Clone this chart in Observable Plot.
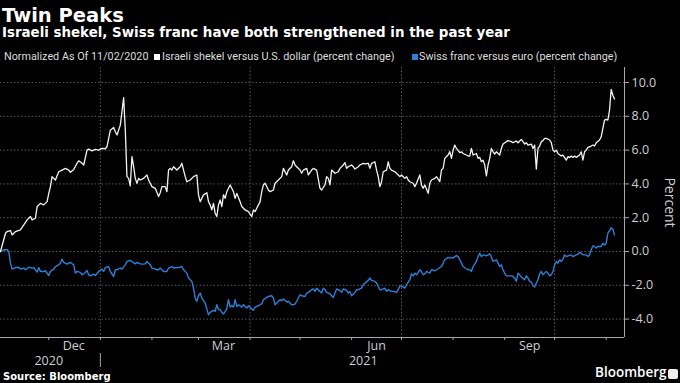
<!DOCTYPE html>
<html><head><meta charset="utf-8">
<script src="https://cdn.jsdelivr.net/npm/d3@7"></script>
<script src="https://cdn.jsdelivr.net/npm/@observablehq/plot@0.6"></script>
<style>
html,body{margin:0;padding:0;background:#000;}
#page{position:relative;width:680px;height:383px;background:#000;overflow:hidden;color:#fff}
.abs{position:absolute;white-space:nowrap}
#title{left:2px;top:5.5px;font:700 19.5px/1 "DejaVu Sans";color:#fff}
#subtitle{left:2px;top:26px;font:700 13.4px/1 "DejaVu Sans";color:#fff}
.leg{font:400 10.8px/1 Roboto;color:#ddd;top:52.4px}
.sq{width:6px;height:6px;top:54px}
#chart{position:absolute;left:0;top:62px}
#source{left:3px;top:371.5px;font:700 10px/1 "DejaVu Sans";color:#fff}
#brand{left:595px;top:366px;font:600 13.5px/1 "Open Sans";color:#fff}
#icon{left:668px;top:369px;width:10px;height:10px;background:#eee;border-radius:2px}
</style></head><body>
<div id="page">
  <div class="abs" id="title">Twin Peaks</div>
  <div class="abs" id="subtitle">Israeli shekel, Swiss franc have both strengthened in the past year</div>
  <div class="abs leg" style="left:4px">Normalized As Of 11/02/2020</div>
  <div class="abs sq" style="left:154px;background:#fff"></div>
  <div class="abs leg" style="left:162px">Israeli shekel versus U.S. dollar (percent change)</div>
  <div class="abs sq" style="left:412px;background:#2e7fd6"></div>
  <div class="abs leg" style="left:419px">Swiss franc versus euro (percent change)</div>
  <div id="chart"></div>
  <div class="abs" id="source">Source: Bloomberg</div>
  <div class="abs" id="brand">Bloomberg</div>
  <div class="abs" id="icon"></div>
</div>
<script>
const shekelDates = ["2020-11-02","2020-11-05","2020-11-06","2020-11-08","2020-11-09","2020-11-11","2020-11-14","2020-11-16","2020-11-18","2020-11-20","2020-11-21","2020-11-23","2020-11-24","2020-11-26","2020-11-28","2020-11-30","2020-12-01","2020-12-02","2020-12-03","2020-12-04","2020-12-05","2020-12-07","2020-12-09","2020-12-11","2020-12-13","2020-12-14","2020-12-16","2020-12-18","2020-12-19","2020-12-20","2020-12-21","2020-12-22","2020-12-24","2020-12-25","2020-12-27","2020-12-29","2020-12-31","2021-01-02","2021-01-04","2021-01-05","2021-01-07","2021-01-09","2021-01-10","2021-01-11","2021-01-13","2021-01-14","2021-01-15","2021-01-16","2021-01-17","2021-01-18","2021-01-19","2021-01-20","2021-01-21","2021-01-22","2021-01-23","2021-01-24","2021-01-25","2021-01-27","2021-01-29","2021-01-30","2021-02-01","2021-02-03","2021-02-05","2021-02-06","2021-02-07","2021-02-09","2021-02-10","2021-02-11","2021-02-12","2021-02-13","2021-02-14","2021-02-16","2021-02-18","2021-02-19","2021-02-21","2021-02-22","2021-02-24","2021-02-26","2021-02-28","2021-03-01","2021-03-02","2021-03-04","2021-03-06","2021-03-07","2021-03-08","2021-03-09","2021-03-10","2021-03-11","2021-03-12","2021-03-13","2021-03-14","2021-03-15","2021-03-16","2021-03-17","2021-03-18","2021-03-20","2021-03-22","2021-03-23","2021-03-24","2021-03-26","2021-03-27","2021-03-29","2021-03-31","2021-04-02","2021-04-03","2021-04-04","2021-04-05","2021-04-07","2021-04-08","2021-04-09","2021-04-10","2021-04-12","2021-04-13","2021-04-15","2021-04-16","2021-04-18","2021-04-20","2021-04-21","2021-04-23","2021-04-24","2021-04-26","2021-04-27","2021-04-28","2021-04-29","2021-05-01","2021-05-02","2021-05-03","2021-05-05","2021-05-06","2021-05-08","2021-05-09","2021-05-11","2021-05-13","2021-05-14","2021-05-16","2021-05-17","2021-05-18","2021-05-19","2021-05-20","2021-05-22","2021-05-24","2021-05-25","2021-05-27","2021-05-28","2021-05-29","2021-05-30","2021-06-01","2021-06-02","2021-06-03","2021-06-05","2021-06-06","2021-06-08","2021-06-09","2021-06-11","2021-06-12","2021-06-13","2021-06-15","2021-06-16","2021-06-17","2021-06-18","2021-06-19","2021-06-20","2021-06-22","2021-06-23","2021-06-24","2021-06-25","2021-06-27","2021-06-28","2021-06-30","2021-07-01","2021-07-03","2021-07-04","2021-07-05","2021-07-06","2021-07-08","2021-07-09","2021-07-10","2021-07-12","2021-07-13","2021-07-14","2021-07-15","2021-07-17","2021-07-18","2021-07-19","2021-07-21","2021-07-22","2021-07-24","2021-07-25","2021-07-26","2021-07-27","2021-07-29","2021-07-30","2021-07-31","2021-08-01","2021-08-02","2021-08-03","2021-08-05","2021-08-06","2021-08-07","2021-08-09","2021-08-10","2021-08-11","2021-08-12","2021-08-13","2021-08-15","2021-08-16","2021-08-17","2021-08-18","2021-08-19","2021-08-20","2021-08-21","2021-08-22","2021-08-23","2021-08-24","2021-08-25","2021-08-26","2021-08-27","2021-08-29","2021-08-30","2021-08-31","2021-09-02","2021-09-03","2021-09-05","2021-09-06","2021-09-08","2021-09-09","2021-09-11","2021-09-12","2021-09-13","2021-09-14","2021-09-15","2021-09-17","2021-09-18","2021-09-19","2021-09-20","2021-09-21","2021-09-22","2021-09-23","2021-09-24","2021-09-25","2021-09-26","2021-09-28","2021-09-29","2021-09-30","2021-10-01","2021-10-02","2021-10-03","2021-10-05","2021-10-06","2021-10-08","2021-10-09","2021-10-10","2021-10-11","2021-10-12","2021-10-13","2021-10-14","2021-10-16","2021-10-17","2021-10-18","2021-10-19","2021-10-20","2021-10-21","2021-10-23","2021-10-24","2021-10-25","2021-10-26","2021-10-28","2021-10-29","2021-10-30","2021-10-31","2021-11-01","2021-11-02","2021-11-03","2021-11-04","2021-11-05","2021-11-06"];
const shekelValues = [0.0,1.08,1.18,1.24,0.98,1.18,1.28,1.57,1.87,2.07,1.87,1.97,2.66,2.85,2.76,2.95,3.44,3.84,4.43,4.33,4.23,4.72,4.82,4.92,4.82,4.69,4.86,5.22,5.37,5.30,5.22,5.12,6.00,6.06,5.96,6.04,6.00,6.10,6.08,6.20,7.18,7.34,7.09,6.90,7.48,8.27,9.11,7.20,4.43,4.33,3.88,5.61,5.02,4.33,4.04,4.33,4.23,4.33,4.53,4.23,3.84,3.74,3.25,3.48,3.84,3.84,3.54,4.82,4.92,4.82,5.02,4.82,5.02,5.22,4.43,4.13,4.23,4.43,4.53,3.35,2.95,3.35,3.48,2.95,2.76,2.46,2.85,2.26,2.07,2.76,3.05,2.66,3.35,3.15,3.54,3.94,3.54,3.15,3.44,2.95,2.66,2.46,2.36,2.07,2.46,2.36,2.56,2.95,3.54,3.94,4.04,3.64,3.54,3.64,4.04,4.23,4.43,4.92,4.53,4.82,5.02,5.37,5.12,5.02,4.82,4.63,4.82,4.92,4.53,4.82,4.92,4.82,3.74,3.64,3.94,4.43,4.33,3.94,4.82,4.63,4.72,4.92,5.12,5.26,4.92,5.02,5.12,5.02,4.88,5.02,5.12,5.22,5.18,5.22,4.92,5.22,5.31,4.82,4.43,3.84,4.13,4.72,4.82,5.31,4.92,4.82,4.72,4.63,4.43,4.53,4.33,4.43,4.23,4.13,4.04,3.84,4.04,4.53,3.94,3.74,3.94,3.44,4.04,4.23,4.33,4.43,4.13,4.82,4.92,5.51,5.71,5.91,5.51,6.00,6.30,6.10,5.85,5.90,5.80,5.71,5.65,5.65,6.10,5.71,5.80,5.51,5.57,5.31,5.41,5.12,4.47,5.12,5.51,6.10,5.90,5.77,5.90,5.71,6.10,6.36,6.50,6.56,6.50,6.44,6.54,6.44,6.63,6.50,6.36,6.44,6.30,6.36,6.10,6.30,4.88,6.10,6.24,6.50,6.56,6.69,6.69,6.60,6.44,6.00,5.90,6.00,5.80,5.65,5.71,5.41,5.61,5.57,5.65,5.57,5.65,5.57,5.71,5.90,5.41,5.90,6.00,6.16,6.24,6.30,6.24,6.44,6.60,6.79,7.28,7.78,7.82,7.78,8.37,9.59,9.25,9.02];

const francDates = ["2020-11-02","2020-11-04","2020-11-06","2020-11-07","2020-11-08","2020-11-09","2020-11-11","2020-11-13","2020-11-14","2020-11-16","2020-11-17","2020-11-19","2020-11-21","2020-11-22","2020-11-24","2020-11-25","2020-11-26","2020-11-28","2020-11-29","2020-12-01","2020-12-02","2020-12-04","2020-12-05","2020-12-07","2020-12-08","2020-12-09","2020-12-10","2020-12-12","2020-12-13","2020-12-14","2020-12-16","2020-12-17","2020-12-18","2020-12-20","2020-12-21","2020-12-23","2020-12-24","2020-12-25","2020-12-26","2020-12-28","2020-12-29","2020-12-31","2021-01-02","2021-01-03","2021-01-04","2021-01-06","2021-01-07","2021-01-09","2021-01-10","2021-01-11","2021-01-13","2021-01-14","2021-01-16","2021-01-17","2021-01-19","2021-01-20","2021-01-22","2021-01-23","2021-01-25","2021-01-26","2021-01-28","2021-01-29","2021-01-31","2021-02-01","2021-02-03","2021-02-04","2021-02-05","2021-02-06","2021-02-08","2021-02-10","2021-02-11","2021-02-13","2021-02-14","2021-02-16","2021-02-17","2021-02-19","2021-02-20","2021-02-22","2021-02-23","2021-02-25","2021-02-26","2021-02-27","2021-02-28","2021-03-01","2021-03-02","2021-03-03","2021-03-05","2021-03-06","2021-03-07","2021-03-08","2021-03-10","2021-03-11","2021-03-12","2021-03-13","2021-03-14","2021-03-15","2021-03-16","2021-03-18","2021-03-19","2021-03-20","2021-03-21","2021-03-22","2021-03-23","2021-03-24","2021-03-25","2021-03-27","2021-03-28","2021-03-30","2021-03-31","2021-04-02","2021-04-03","2021-04-04","2021-04-06","2021-04-08","2021-04-09","2021-04-11","2021-04-12","2021-04-14","2021-04-15","2021-04-16","2021-04-17","2021-04-19","2021-04-20","2021-04-21","2021-04-23","2021-04-24","2021-04-26","2021-04-27","2021-04-28","2021-04-29","2021-05-01","2021-05-02","2021-05-04","2021-05-05","2021-05-06","2021-05-08","2021-05-09","2021-05-10","2021-05-11","2021-05-13","2021-05-14","2021-05-15","2021-05-16","2021-05-17","2021-05-19","2021-05-20","2021-05-21","2021-05-22","2021-05-23","2021-05-25","2021-05-26","2021-05-27","2021-05-29","2021-05-30","2021-05-31","2021-06-01","2021-06-03","2021-06-04","2021-06-05","2021-06-07","2021-06-08","2021-06-09","2021-06-11","2021-06-12","2021-06-13","2021-06-15","2021-06-16","2021-06-17","2021-06-18","2021-06-19","2021-06-21","2021-06-22","2021-06-23","2021-06-25","2021-06-26","2021-06-28","2021-06-29","2021-06-30","2021-07-02","2021-07-03","2021-07-04","2021-07-06","2021-07-07","2021-07-08","2021-07-09","2021-07-10","2021-07-12","2021-07-13","2021-07-14","2021-07-15","2021-07-16","2021-07-17","2021-07-18","2021-07-19","2021-07-21","2021-07-22","2021-07-23","2021-07-25","2021-07-26","2021-07-27","2021-07-29","2021-07-30","2021-07-31","2021-08-01","2021-08-02","2021-08-03","2021-08-04","2021-08-05","2021-08-06","2021-08-07","2021-08-09","2021-08-10","2021-08-11","2021-08-12","2021-08-13","2021-08-15","2021-08-16","2021-08-17","2021-08-18","2021-08-19","2021-08-21","2021-08-23","2021-08-24","2021-08-25","2021-08-27","2021-08-28","2021-08-29","2021-08-30","2021-08-31","2021-09-01","2021-09-02","2021-09-04","2021-09-05","2021-09-06","2021-09-07","2021-09-08","2021-09-09","2021-09-10","2021-09-11","2021-09-13","2021-09-14","2021-09-15","2021-09-16","2021-09-17","2021-09-18","2021-09-19","2021-09-20","2021-09-21","2021-09-22","2021-09-23","2021-09-24","2021-09-25","2021-09-26","2021-09-27","2021-09-28","2021-09-29","2021-09-30","2021-10-01","2021-10-02","2021-10-03","2021-10-04","2021-10-05","2021-10-06","2021-10-07","2021-10-08","2021-10-09","2021-10-11","2021-10-12","2021-10-14","2021-10-15","2021-10-16","2021-10-17","2021-10-18","2021-10-20","2021-10-21","2021-10-22","2021-10-23","2021-10-24","2021-10-25","2021-10-26","2021-10-27","2021-10-29","2021-10-30","2021-10-31","2021-11-01","2021-11-02","2021-11-03","2021-11-04","2021-11-05","2021-11-06"];
const francValues = [0.0,0.10,0.10,0.0,-0.69,-1.04,-0.95,-0.93,-1.04,-0.98,-1.08,-0.93,-0.98,-0.95,-1.22,-0.95,-1.18,-1.18,-1.14,-1.42,-1.18,-1.04,-0.89,-0.79,-0.69,-0.45,-0.65,-0.75,-0.69,-0.65,-0.79,-1.28,-1.18,-1.24,-1.38,-1.24,-1.12,-1.38,-1.44,-1.34,-1.42,-1.18,-1.04,-1.18,-0.95,-0.89,-1.18,-1.48,-1.08,-1.08,-0.98,-1.04,-0.79,-0.59,-0.53,-0.59,-0.73,-0.65,-0.73,-0.75,-0.73,-0.59,-0.79,-0.98,-1.04,-1.08,-1.08,-0.98,-1.18,-1.18,-0.98,-0.89,-0.98,-0.95,-0.95,-0.89,-1.08,-1.28,-1.57,-1.77,-2.17,-2.76,-2.95,-2.62,-2.46,-2.76,-3.05,-3.41,-3.74,-3.60,-3.48,-3.54,-3.15,-3.44,-3.44,-3.60,-3.70,-3.39,-2.85,-3.29,-3.19,-3.29,-2.85,-3.25,-3.15,-3.29,-3.15,-3.35,-3.21,-3.41,-3.48,-3.29,-3.21,-3.09,-2.85,-2.72,-2.66,-2.62,-2.76,-3.15,-3.05,-2.85,-2.91,-2.81,-2.99,-2.95,-3.15,-3.15,-3.11,-2.95,-2.56,-2.62,-2.66,-2.46,-2.42,-2.26,-2.22,-2.36,-2.17,-2.36,-2.46,-2.17,-2.26,-2.42,-2.50,-2.62,-2.72,-2.46,-2.22,-2.30,-2.42,-2.22,-2.30,-2.46,-2.36,-2.62,-2.42,-2.26,-2.26,-2.17,-1.97,-1.87,-1.71,-1.57,-1.71,-1.77,-1.87,-2.07,-2.26,-2.26,-2.17,-2.36,-2.26,-2.36,-2.36,-2.42,-2.26,-2.03,-2.11,-2.17,-1.97,-1.67,-1.32,-1.44,-1.28,-1.38,-1.08,-1.18,-1.38,-1.32,-1.18,-1.24,-1.28,-1.08,-1.14,-1.08,-1.02,-0.89,-0.69,-0.49,-0.35,-0.39,-0.35,-0.39,-0.30,-0.24,-0.30,-0.49,-0.69,-0.89,-1.02,-1.08,-1.06,-1.18,-0.89,-0.59,-0.30,-0.10,-0.30,-0.20,-0.26,-0.14,-0.33,-0.59,-0.49,-0.69,-0.89,-0.79,-1.08,-1.28,-1.44,-1.44,-1.44,-1.48,-1.57,-1.77,-1.28,-1.38,-1.52,-1.67,-1.44,-1.57,-1.77,-1.81,-2.03,-2.10,-1.87,-1.67,-1.32,-1.18,-1.38,-1.28,-1.18,-1.28,-1.44,-1.38,-1.18,-0.79,-0.59,-0.69,-0.49,-0.59,-0.45,-0.20,-0.30,-0.26,-0.20,-0.30,-0.20,-0.16,-0.06,-0.10,-0.20,-0.20,-0.30,-0.20,0.10,0.33,0.30,0.20,0.30,0.30,0.49,0.39,0.49,1.08,1.24,1.40,1.32,0.98];

const yTicks = [10, 8, 6, 4, 2, 0, -2, -4];
const quarterStarts = ["2021-01-01", "2021-04-01", "2021-07-01", "2021-10-01"];
const monthStarts = ["2020-12-01","2021-01-01","2021-02-01","2021-03-01","2021-04-01","2021-05-01","2021-06-01","2021-07-01","2021-08-01","2021-09-01","2021-10-01","2021-11-01"];
const monthLabelDates = ["2020-12-16", "2021-03-16", "2021-06-16", "2021-09-16"];
const monthLabels = ["Dec", "Mar", "Jun", "Sep"];
const yearLabelDates = ["2020-12-01", "2021-06-08"];
const yearLabels = ["2020", "2021"];
const yearBoundary = ["2021-01-01"];
const xDomain = ["2020-11-02", "2021-11-12"];
const yDomain = [-5.09, 10.89];

const D = s => new Date(s + "T00:00:00Z");
const shekel = shekelDates.map((d, i) => ({date: D(d), value: shekelValues[i]}));
const franc = francDates.map((d, i) => ({date: D(d), value: francValues[i]}));
const monthLabelMap = new Map(monthLabelDates.map((d, i) => [+D(d), monthLabels[i]]));
const yearLabelMap = new Map(yearLabelDates.map((d, i) => [+D(d), yearLabels[i]]));

const grid = "#5a5a5a";
const axisColor = "#a8a8a8";
const textColor = "#cfcfcf";

const chart = Plot.plot({
  width: 680,
  height: 306,
  marginTop: 5,
  marginRight: 56,
  marginBottom: 31,
  marginLeft: 0,
  style: {background: "#000", color: textColor, fontFamily: "'Open Sans'", fontSize: "12.5px", overflow: "visible"},
  x: {type: "utc", domain: xDomain.map(D), axis: null},
  y: {domain: yDomain, axis: null},
  marks: [
    Plot.ruleY(yTicks, {stroke: grid, strokeDasharray: "1.5,2"}),
    Plot.ruleX(quarterStarts.map(D), {stroke: grid, strokeDasharray: "1.5,2"}),
    Plot.ruleY([yDomain[0]], {stroke: axisColor}),
    Plot.ruleX([D(xDomain[1])], {stroke: axisColor}),
    Plot.axisX(monthStarts.map(D), {anchor: "bottom", tickSize: 3, tickFormat: () => "", stroke: axisColor, label: null}),
    Plot.axisX(monthLabelDates.map(D), {anchor: "bottom", tickSize: 0, tickPadding: 4, tickFormat: d => monthLabelMap.get(+d), fill: textColor, fontSize: 12.5, label: null}),
    Plot.text(yearLabelDates.map(D), {x: d => d, frameAnchor: "bottom", dy: 23, lineAnchor: "middle", text: d => yearLabelMap.get(+d), fill: textColor, fontSize: 12.5}),
    Plot.ruleX(yearBoundary.map(D), {stroke: axisColor, insetTop: 286, insetBottom: -30}),
    Plot.axisY(yTicks, {anchor: "right", tickSize: 4, tickPadding: 3, tickFormat: d => d.toFixed(1), stroke: axisColor, fill: textColor, fontSize: 12.5, label: null}),
    Plot.text(["Percent"], {frameAnchor: "right", dx: 45, rotate: 90, textAnchor: "middle", fill: textColor, fontSize: 14}),
    Plot.lineY(franc, {x: "date", y: "value", stroke: "#2e7fd6", strokeWidth: 1.4}),
    Plot.lineY(shekel, {x: "date", y: "value", stroke: "#f4f4f4", strokeWidth: 1.3})
  ]
});
document.getElementById("chart").append(chart);
</script>
</body></html>
